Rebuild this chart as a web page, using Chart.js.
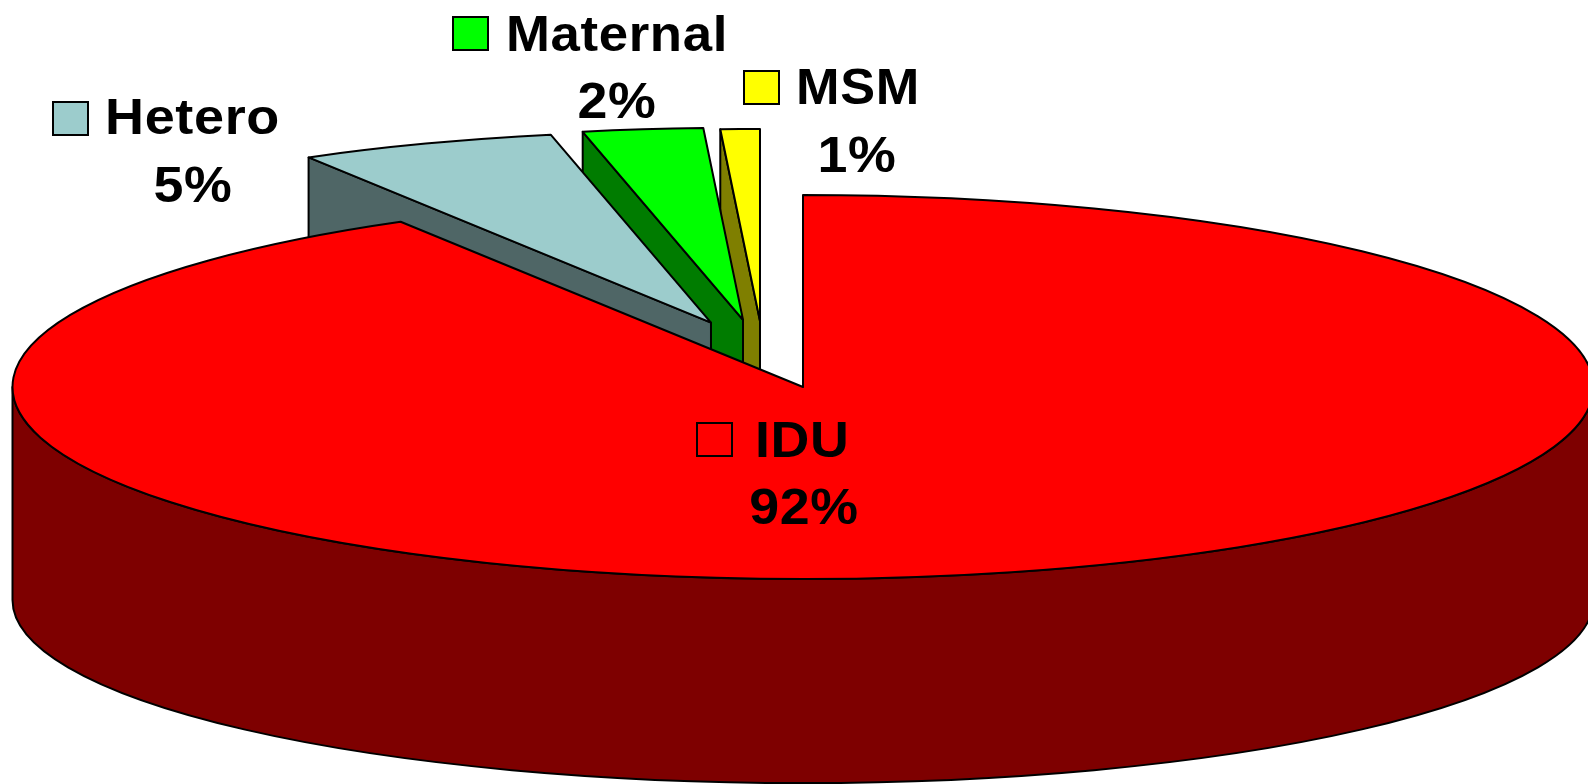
<!DOCTYPE html>
<html>
<head>
<meta charset="utf-8">
<style>html,body{margin:0;padding:0;background:#fff}canvas{display:block}</style>
<script src="https://cdn.jsdelivr.net/npm/chart.js@4"></script>
</head>
<body>
<canvas id="c" width="1588" height="784"></canvas>
<script>
// Data
const categories = ['IDU', 'Hetero', 'Maternal', 'MSM'];
const values = [91.5, 5.25, 2.45, 0.8];

// Styles
const topColors = ['#FF0000', '#9CCCCC', '#00FF00', '#FFFF00'];
const wallColors = ['#7E0000', '#4F6666', '#007C00', '#7F7F00'];
// explosion of each slice, as a fraction of the ellipse radii
const explodeX = [0, -0.1164, -0.0759, -0.0544];
const explodeY = [0, -0.335, -0.35, -0.344];
// legend placement: key box left/top, text left/baseline, percent centre/baseline, text stretch
const labelLayout = [
  {kx: 697, ky: 423, tx: 755, ty: 457, px: 804, py: 524, st: 1.075},
  {kx: 53,  ky: 102, tx: 105, ty: 134, px: 193, py: 202, st: 1.08},
  {kx: 453, ky: 17,  tx: 506, ty: 51,  px: 617, py: 118, st: 1.055},
  {kx: 744, ky: 71,  tx: 796, ty: 104, px: 857, py: 172, st: 1.045}
];
// pie projection
const view = {cx: 803, cy: 387, rx: 790.5, ry: 192, wallCy: 600, wallRy: 183, depth: 208, keyW: 35, keyH: 33};

function drawArc(ctx, arc, cx, cy, rx, ry) {
  const base = ctx.getTransform();
  const R = arc.outerRadius;
  ctx.save();
  ctx.translate(cx, cy);
  ctx.scale(rx / R, ry / R);
  ctx.translate(-arc.x, -arc.y);
  // keep outline width uniform although the slice is squashed
  ctx.stroke = function () {
    const t = ctx.getTransform();
    ctx.setTransform(base);
    CanvasRenderingContext2D.prototype.stroke.call(ctx);
    ctx.setTransform(t);
  };
  arc.draw(ctx);
  delete ctx.stroke;
  ctx.restore();
}

const pie3d = {
  id: 'pie3d',
  beforeDatasetsDraw(chart) {
    const ctx = chart.ctx;
    const arcs = chart.getDatasetMeta(0).data;
    const v = view;
    ctx.save();
    ctx.lineWidth = 2;
    ctx.strokeStyle = '#000';
    ctx.lineJoin = 'round';

    // exploded slices, back to front: last category first
    for (let i = arcs.length - 1; i >= 1; i--) {
      const a = arcs[i];
      const ax = v.cx + explodeX[i] * v.rx;
      const ay = v.cy + explodeY[i] * v.ry;
      const sx = ax + Math.cos(a.startAngle) * v.rx;
      const sy = ay + Math.sin(a.startAngle) * v.ry;
      ctx.beginPath();
      ctx.moveTo(sx, sy);
      ctx.lineTo(ax, ay);
      ctx.lineTo(ax, ay + v.depth);
      ctx.lineTo(sx, sy + v.depth);
      ctx.closePath();
      ctx.fillStyle = wallColors[i];
      ctx.fill();
      ctx.stroke();
      drawArc(ctx, a, ax, ay, v.rx, v.ry);
    }

    // main slice: outer wall, then top
    ctx.beginPath();
    ctx.ellipse(v.cx, v.cy, v.rx, v.ry, 0, 0, Math.PI);
    ctx.lineTo(v.cx - v.rx, v.wallCy);
    ctx.ellipse(v.cx, v.wallCy, v.rx, v.wallRy, 0, Math.PI, 0, true);
    ctx.closePath();
    ctx.fillStyle = wallColors[0];
    ctx.fill();
    ctx.stroke();
    drawArc(ctx, arcs[0], v.cx, v.cy, v.rx, v.ry);

    ctx.restore();
    return false;
  },
  afterDraw(chart) {
    const ctx = chart.ctx;
    ctx.save();
    ctx.font = 'bold 50px "Liberation Sans", Arial, sans-serif';
    ctx.textBaseline = 'alphabetic';
    ctx.letterSpacing = '0.6px';
    const put = (s, x, y, align, st) => {
      ctx.save();
      ctx.translate(x, y);
      ctx.scale(st, 1);
      ctx.textAlign = align;
      ctx.fillStyle = '#000';
      ctx.fillText(s, 0, 0);
      ctx.restore();
    };
    categories.forEach((name, i) => {
      const l = labelLayout[i];
      ctx.fillStyle = topColors[i];
      ctx.strokeStyle = '#000';
      ctx.lineWidth = 2;
      ctx.fillRect(l.kx, l.ky, view.keyW, view.keyH);
      ctx.strokeRect(l.kx, l.ky, view.keyW, view.keyH);
      put(name, l.tx, l.ty, 'left', l.st);
      put(Math.round(values[i]) + '%', l.px, l.py, 'center', 1.075);
    });
    ctx.restore();
  }
};

new Chart(document.getElementById('c'), {
  type: 'pie',
  data: {
    labels: categories,
    datasets: [{
      data: values,
      backgroundColor: topColors,
      borderColor: '#000',
      borderWidth: 2,
      borderJoinStyle: 'round'
    }]
  },
  options: {
    responsive: false,
    devicePixelRatio: 1,
    animation: false,
    rotation: 0,
    layout: {padding: 0},
    plugins: {legend: {display: false}, tooltip: {enabled: false}, title: {display: false}}
  },
  plugins: [pie3d]
});
</script>
</body>
</html>
